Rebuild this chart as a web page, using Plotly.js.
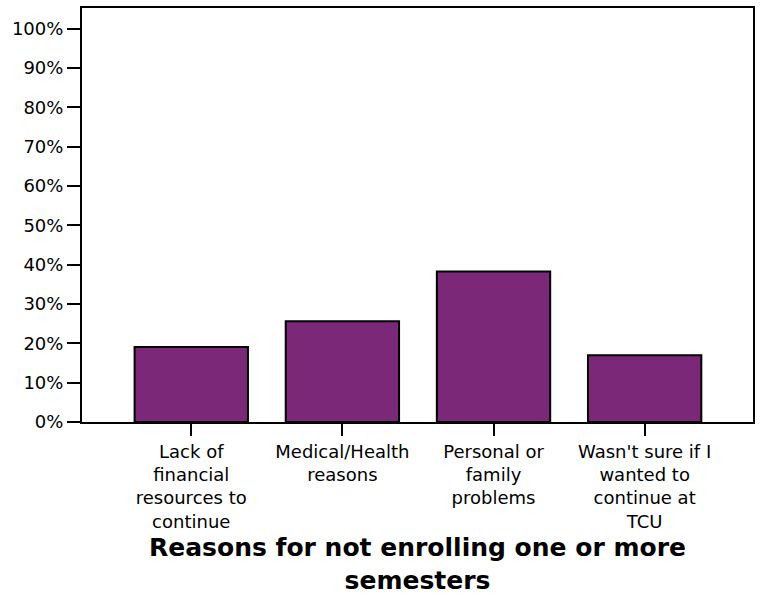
<!DOCTYPE html>
<html>
<head>
<meta charset="utf-8">
<script src="https://cdn.plot.ly/plotly-3.0.1.min.js"></script>
<style>html,body{margin:0;padding:0;background:#fff;}</style>
</head>
<body>
<div id="chart" style="width:761px;height:595px;"></div>
<script>
const categories = [
  "Lack of financial resources to continue",
  "Medical/Health reasons",
  "Personal or family problems",
  "Wasn't sure if I wanted to continue at TCU"
];
const tickLabels = [
  "Lack of<br>financial<br>resources to<br>continue",
  "Medical/Health<br>reasons",
  "Personal or<br>family<br>problems",
  "Wasn't sure if I<br>wanted to<br>continue at<br>TCU"
];
const percentValues = [19.1, 25.6, 38.3, 17.0];
const yTickValues = [0, 10, 20, 30, 40, 50, 60, 70, 80, 90, 100];
const yTickLabels = ["0%", "10%", "20%", "30%", "40%", "50%", "60%", "70%", "80%", "90%", "100%"];
const xTitle = "Reasons for not enrolling one or more<br>semesters";

const FONT = "DejaVu Sans, Liberation Sans, Arial, sans-serif";

const trace = {
  type: "bar",
  x: categories,
  y: percentValues,
  marker: { color: "#7b2879", line: { color: "#000", width: 2 } },
  hoverinfo: "none"
};

const layout = {
  width: 761,
  height: 595,
  margin: { l: 82, r: 8, t: 8, b: 173 },
  paper_bgcolor: "#fff",
  plot_bgcolor: "#fff",
  showlegend: false,
  bargap: 0.25,
  font: { family: FONT, color: "#000", size: 18 },
  xaxis: {
    type: "category",
    categoryorder: "array",
    categoryarray: categories,
    tickmode: "array",
    tickvals: categories,
    ticktext: tickLabels,
    range: [-0.723, 3.717],
    ticks: "outside",
    ticklen: 12,
    tickwidth: 2,
    tickcolor: "#000",
    showline: true,
    linewidth: 2,
    linecolor: "#000",
    mirror: true,
    showgrid: false,
    zeroline: false,
    tickangle: 0,
    tickfont: { family: FONT, size: 18, color: "#000" },
    automargin: false,
    title: {
      text: xTitle,
      font: { family: FONT, size: 25, color: "#000", weight: "bold" },
      standoff: 16
    }
  },
  yaxis: {
    range: [0, 105.3],
    tickmode: "array",
    tickvals: yTickValues,
    ticktext: yTickLabels,
    ticks: "outside",
    ticklen: 13,
    tickwidth: 2,
    tickcolor: "#000",
    showline: true,
    linewidth: 2,
    linecolor: "#000",
    mirror: true,
    showgrid: false,
    zeroline: false,
    tickfont: { family: FONT, size: 18, color: "#000" },
    automargin: false
  }
};

Plotly.newPlot("chart", [trace], layout, { staticPlot: true, displayModeBar: false });
</script>
</body>
</html>
